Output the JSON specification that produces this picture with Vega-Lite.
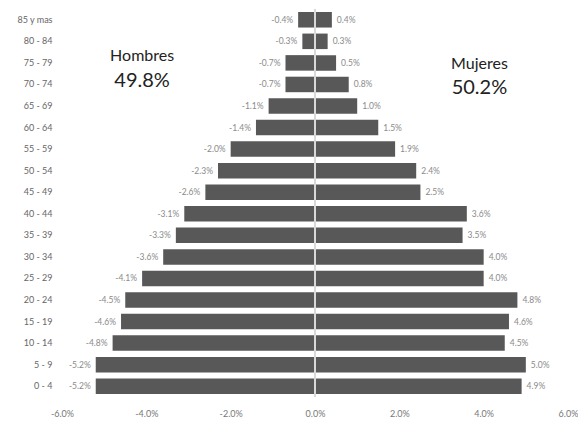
{
  "$schema": "https://vega.github.io/schema/vega-lite/v6.json",
  "autosize": {"type": "none"},
  "padding": {"left": 62, "top": 9, "right": 10, "bottom": 33},
  "width": 506,
  "height": 388,
  "background": "white",
  "config": {
    "view": {"stroke": null},
    "font": "Lato",
    "locale": {"number": {"decimal": ".", "thousands": ",", "grouping": [3], "currency": ["$", ""], "minus": "-"}}
  },
  "data": {
    "values": [
      {"age": "85 y mas", "sexo": "Hombres", "value": -0.004},
      {"age": "80 - 84", "sexo": "Hombres", "value": -0.003},
      {"age": "75 - 79", "sexo": "Hombres", "value": -0.007},
      {"age": "70 - 74", "sexo": "Hombres", "value": -0.007},
      {"age": "65 - 69", "sexo": "Hombres", "value": -0.011},
      {"age": "60 - 64", "sexo": "Hombres", "value": -0.014},
      {"age": "55 - 59", "sexo": "Hombres", "value": -0.020},
      {"age": "50 - 54", "sexo": "Hombres", "value": -0.023},
      {"age": "45 - 49", "sexo": "Hombres", "value": -0.026},
      {"age": "40 - 44", "sexo": "Hombres", "value": -0.031},
      {"age": "35 - 39", "sexo": "Hombres", "value": -0.033},
      {"age": "30 - 34", "sexo": "Hombres", "value": -0.036},
      {"age": "25 - 29", "sexo": "Hombres", "value": -0.041},
      {"age": "20 - 24", "sexo": "Hombres", "value": -0.045},
      {"age": "15 - 19", "sexo": "Hombres", "value": -0.046},
      {"age": "10 - 14", "sexo": "Hombres", "value": -0.048},
      {"age": "5 - 9", "sexo": "Hombres", "value": -0.052},
      {"age": "0 - 4", "sexo": "Hombres", "value": -0.052},
      {"age": "85 y mas", "sexo": "Mujeres", "value": 0.004},
      {"age": "80 - 84", "sexo": "Mujeres", "value": 0.003},
      {"age": "75 - 79", "sexo": "Mujeres", "value": 0.005},
      {"age": "70 - 74", "sexo": "Mujeres", "value": 0.008},
      {"age": "65 - 69", "sexo": "Mujeres", "value": 0.010},
      {"age": "60 - 64", "sexo": "Mujeres", "value": 0.015},
      {"age": "55 - 59", "sexo": "Mujeres", "value": 0.019},
      {"age": "50 - 54", "sexo": "Mujeres", "value": 0.024},
      {"age": "45 - 49", "sexo": "Mujeres", "value": 0.025},
      {"age": "40 - 44", "sexo": "Mujeres", "value": 0.036},
      {"age": "35 - 39", "sexo": "Mujeres", "value": 0.035},
      {"age": "30 - 34", "sexo": "Mujeres", "value": 0.040},
      {"age": "25 - 29", "sexo": "Mujeres", "value": 0.040},
      {"age": "20 - 24", "sexo": "Mujeres", "value": 0.048},
      {"age": "15 - 19", "sexo": "Mujeres", "value": 0.046},
      {"age": "10 - 14", "sexo": "Mujeres", "value": 0.045},
      {"age": "5 - 9", "sexo": "Mujeres", "value": 0.050},
      {"age": "0 - 4", "sexo": "Mujeres", "value": 0.049}
    ]
  },
  "encoding": {
    "y": {
      "field": "age",
      "type": "nominal",
      "sort": ["85 y mas", "80 - 84", "75 - 79", "70 - 74", "65 - 69", "60 - 64", "55 - 59", "50 - 54", "45 - 49", "40 - 44", "35 - 39", "30 - 34", "25 - 29", "20 - 24", "15 - 19", "10 - 14", "5 - 9", "0 - 4"],
      "scale": {"paddingInner": 0.28, "paddingOuter": 0.14},
      "axis": {"title": null, "domain": false, "ticks": false, "labelPadding": 10, "labelFontSize": 9, "labelColor": "#666", "labelFont": "Lato"}
    }
  },
  "layer": [
    {
      "mark": {"type": "bar", "color": "#585858"},
      "encoding": {
        "x": {
          "field": "value",
          "type": "quantitative",
          "scale": {"domain": [-0.06, 0.06], "nice": false},
          "axis": {"title": null, "format": ".1%", "values": [-0.06, -0.04, -0.02, 0, 0.02, 0.04, 0.06], "domain": false, "ticks": false, "grid": false, "labelFontSize": 9, "labelColor": "#777", "labelPadding": 12, "labelFlush": false}
        }
      }
    },
    {
      "mark": {"type": "rule", "color": "#d8d8d8", "strokeWidth": 1.5},
      "encoding": {"x": {"datum": 0, "type": "quantitative"}, "y": {"value": 0}, "y2": {"value": 388}}
    },
    {
      "transform": [{"filter": "datum.value < 0"}],
      "mark": {"type": "text", "align": "right", "dx": -5, "fontSize": 8.5, "color": "#8a8a8a"},
      "encoding": {
        "x": {"field": "value", "type": "quantitative"},
        "text": {"field": "value", "type": "quantitative", "format": ".1%"}
      }
    },
    {
      "transform": [{"filter": "datum.value > 0"}],
      "mark": {"type": "text", "align": "left", "dx": 5, "fontSize": 8.5, "color": "#8a8a8a"},
      "encoding": {
        "x": {"field": "value", "type": "quantitative"},
        "text": {"field": "value", "type": "quantitative", "format": ".1%"}
      }
    },
    {
      "data": {"values": [{"label": "Hombres", "xpos": -0.041, "age": "75 - 79"}]},
      "mark": {"type": "text", "fontSize": 16, "color": "#222", "dy": -7},
      "encoding": {"x": {"field": "xpos", "type": "quantitative"}, "text": {"field": "label"}}
    },
    {
      "data": {"values": [{"label": "49.8%", "xpos": -0.041, "age": "70 - 74"}]},
      "mark": {"type": "text", "fontSize": 20, "color": "#222", "dy": -3},
      "encoding": {"x": {"field": "xpos", "type": "quantitative"}, "text": {"field": "label"}}
    },
    {
      "data": {"values": [{"label": "Mujeres", "xpos": 0.039, "age": "75 - 79"}]},
      "mark": {"type": "text", "fontSize": 16, "color": "#222", "dy": 1},
      "encoding": {"x": {"field": "xpos", "type": "quantitative"}, "text": {"field": "label"}}
    },
    {
      "data": {"values": [{"label": "50.2%", "xpos": 0.039, "age": "70 - 74"}]},
      "mark": {"type": "text", "fontSize": 20, "color": "#222", "dy": 4},
      "encoding": {"x": {"field": "xpos", "type": "quantitative"}, "text": {"field": "label"}}
    }
  ]
}
